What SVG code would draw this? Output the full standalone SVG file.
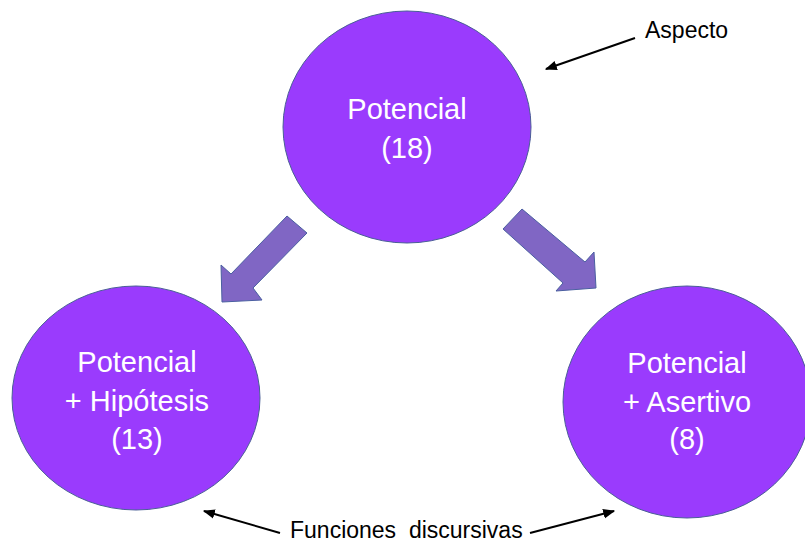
<svg xmlns="http://www.w3.org/2000/svg" width="805" height="544" viewBox="0 0 805 544">
<defs>
<style>
.node{fill:#9a3bfd;stroke:#4a5f96;stroke-width:1}
.lbl{font-family:"Liberation Sans",Arial,sans-serif;font-size:29px;fill:#ffffff;text-anchor:middle}
.note{font-family:"Liberation Sans",Arial,sans-serif;font-size:23px;fill:#000000}
.big{fill:#8066c4;stroke:#4a5fa0;stroke-width:1}
.thin{stroke:#000;stroke-width:2;fill:none;marker-end:url(#ah)}
</style>
<marker id="ah" viewBox="0 0 10 10" refX="9" refY="5" markerWidth="6" markerHeight="6" orient="auto" markerUnits="strokeWidth">
<path d="M0,1 L10,5 L0,9 z" fill="#000"/>
</marker>
</defs>
<rect width="805" height="544" fill="#ffffff"/>
<g id="connectors">
<polygon class="big" points="287,216 307,233 253,288 262,300 222,302 221,265 231,274"/>
<polygon class="big" points="522,209 503,229 563,283 556,291 596,288 594,252 585,262"/>
<line class="thin" x1="635" y1="38" x2="546" y2="69"/>
<line class="thin" x1="280" y1="533" x2="204" y2="511"/>
<line class="thin" x1="530" y1="533" x2="614" y2="511"/>
</g>
<g id="top">
<ellipse class="node" cx="407" cy="127" rx="124" ry="116"/>
<text class="lbl" x="407" y="119">Potencial</text>
<text class="lbl" x="407" y="158">(18)</text>
</g>
<g id="left">
<ellipse class="node" cx="136" cy="398" rx="124" ry="112"/>
<text class="lbl" x="137" y="372">Potencial</text>
<text class="lbl" x="137" y="411">+ Hipótesis</text>
<text class="lbl" x="137" y="449">(13)</text>
</g>
<g id="right">
<ellipse class="node" cx="687" cy="402" rx="124" ry="116"/>
<text class="lbl" x="687" y="373">Potencial</text>
<text class="lbl" x="687" y="412">+ Asertivo</text>
<text class="lbl" x="687" y="449">(8)</text>
</g>
<g id="labels">
<text class="note" x="645" y="38">Aspecto</text>
<text class="note" x="290" y="538" xml:space="preserve">Funciones  discursivas</text>
</g>
</svg>
